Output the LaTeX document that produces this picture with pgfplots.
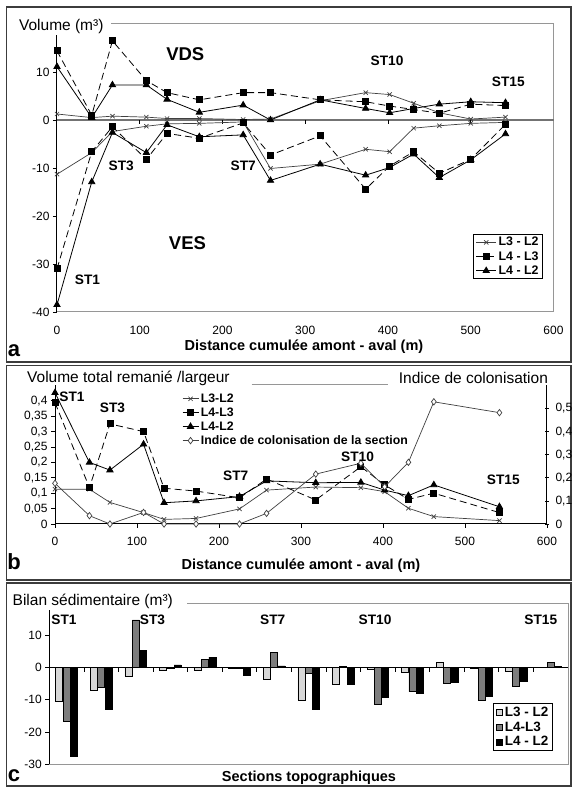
\documentclass[border=0pt]{standalone}
\usepackage{fontspec}
\setmainfont{Liberation Sans}
\usepackage{pgfplots}
\pgfplotsset{compat=1.18}
\newcommand\fs[1]{\fontsize{#1}{#1}\selectfont}
\definecolor{frm}{RGB}{60,60,60}
\definecolor{axg}{RGB}{150,150,150}
\definecolor{lg}{RGB}{215,215,215}
\definecolor{mg}{RGB}{125,125,125}
\pgfplotsset{every axis/.append style={scale only axis, clip=false,
  /pgf/number format/assume math mode=true,
  tick label style={font=\fs{12}},
  major tick length=4pt,
  tick style={black, line width=0.7pt}},
  sLtt/.style={black!75, line width=0.7pt, mark=x, mark size=3pt, mark options={solid}},
  sLtf/.style={black, line width=0.8pt, dash pattern=on 7pt off 4pt, mark=square*, mark size=3pt, mark options={solid}},
  sLft/.style={black, line width=0.8pt, mark=triangle*, mark size=3.6pt, mark options={solid}},
}
\begin{document}
\begin{tikzpicture}
\useasboundingbox (0pt,0pt) rectangle (572pt,788pt);
\fill[white] (0pt,0pt) rectangle (572pt,788pt);
% panel frames
\draw[frm, line width=1.3pt] (6.5pt,781pt) rectangle (571pt,426pt);
\draw[frm, line width=1.3pt] (6.5pt,422.5pt) rectangle (571pt,208pt);
\draw[frm, line width=1.3pt] (6.5pt,205pt) rectangle (571pt,2pt);

% ---------------- panel a
\begin{axis}[at={(57pt,476pt)}, anchor=south west, width=496.5pt, height=288pt,
  xmin=0, xmax=600, ymin=-40, ymax=20,
  xtick={0,100,...,600}, ytick={-40,-30,...,10},
  axis line style={axg, line width=1pt},
  xtick style={draw=none}, ytick pos=left, xtick pos=bottom, tick align=outside,
  xticklabel style={yshift=-7pt},
  legend style={at={(0.979,0.1135)}, anchor=south east, draw=black, line width=1pt,
    font=\bfseries\fs{12.4}, inner xsep=2pt, inner ysep=1pt, row sep=0pt,
    nodes={inner sep=2pt}, cells={anchor=west}},
  legend image code/.code={\draw[mark repeat=2,mark phase=2,#1] plot coordinates {(0pt,0pt) (10pt,0pt) (20pt,0pt)};},
]
\draw[black!55, line width=2.2pt] (axis cs:0,0) -- (axis cs:600,0);
\pgfplotsinvokeforeach{100,200,300,400,500}{\draw[black, line width=0.7pt] (axis cs:#1,0) -- ([yshift=-4pt]axis cs:#1,0);}
\draw[black, line width=1pt] (rel axis cs:0,0) -- (rel axis cs:0,1);
\addplot[sLtt] coordinates {(0,1.25)(42,0.5)(67,0.8)(108,0.6)(133,0.3)(172,0.3)(225,0.1)(258,0.2)(318,4.0)(373,5.7)(402,5.3)(431,3.5)(462,1.5)(500,0.2)(542,0.6)};
\addlegendentry{L3 - L2}
\addplot[sLtf] coordinates {(0,14.4)(42,1.0)(67,16.5)(108,8.2)(133,5.7)(172,4.2)(225,5.7)(258,5.7)(318,4.2)(373,3.8)(402,2.9)(431,2.2)(462,1.4)(500,3.3)(542,3.0)};
\addlegendentry{L4 - L3}
\addplot[sLft] coordinates {(0,11.1)(42,0.5)(67,7.3)(108,7.3)(133,4.3)(172,1.6)(225,3.1)(258,0)(318,4.2)(373,2.4)(402,1.5)(431,2.4)(462,3.3)(500,3.8)(542,3.6)};
\addlegendentry{L4 - L2}
\addplot[sLtt, forget plot] coordinates {(0,-11.3)(42,-6.8)(67,-2.4)(108,-1.3)(133,-0.8)(172,-0.7)(225,-0.4)(258,-10.1)(318,-9.2)(373,-6.1)(402,-6.6)(431,-1.7)(462,-1.2)(500,-0.7)(542,-0.5)};
\addplot[sLtf, forget plot] coordinates {(0,-31)(42,-6.6)(67,-1.4)(108,-8.2)(133,-2.8)(172,-3.8)(225,-0.6)(258,-7.3)(318,-3.3)(373,-14.4)(402,-9.6)(431,-6.6)(462,-11.1)(500,-8.2)(542,-0.9)};
\addplot[sLft, forget plot] coordinates {(0,-38.5)(42,-12.9)(67,-2.6)(108,-6.8)(133,-1.0)(172,-3.5)(225,-3.1)(258,-12.6)(318,-9.2)(373,-11.5)(402,-9.9)(431,-7.1)(462,-12.0)(500,-8.3)(542,-2.9)};
\end{axis}

% ---------------- panel b (left axis)
\begin{axis}[at={(55pt,264pt)}, anchor=south west, width=492pt, height=138.6pt,
  xmin=0, xmax=600, ymin=0, ymax=0.45,
  axis x line*=bottom, axis y line*=left,
  axis line style={black, line width=1pt, -},
  xtick={0,100,...,600}, ytick={0,0.05,0.1,0.15,0.2,0.25,0.3,0.35,0.4},
  tick align=outside,
  xticklabel style={yshift=-6pt},
  yticklabel style={/pgf/number format/.cd, use comma, fixed, precision=2},
  legend style={at={(0.258,0.955)}, anchor=north west, draw=none, fill=none,
    font=\bfseries\fs{12.3}, inner sep=0pt, row sep=0pt,
    nodes={inner sep=1.9pt}, cells={anchor=west}},
  legend image code/.code={\draw[mark repeat=2,mark phase=2,#1] plot coordinates {(0pt,0pt) (8pt,0pt) (16pt,0pt)};},
]
\addplot[sLtt] coordinates {(0,0.113)(42,0.113)(67,0.07)(108,0.037)(133,0.015)(172,0.018)(225,0.049)(258,0.11)(318,0.12)(373,0.118)(402,0.105)(431,0.051)(462,0.024)(542,0.011)};
\addlegendentry{L3-L2}
\addplot[sLtf] coordinates {(0,0.394)(42,0.118)(67,0.325)(108,0.30)(133,0.116)(172,0.107)(225,0.085)(258,0.146)(318,0.078)(373,0.186)(402,0.127)(431,0.080)(462,0.10)(542,0.037)};
\addlegendentry{L4-L3}
\addplot[sLft] coordinates {(0,0.426)(42,0.2)(67,0.175)(108,0.259)(133,0.069)(172,0.075)(225,0.089)(258,0.14)(318,0.134)(373,0.135)(402,0.11)(431,0.092)(462,0.127)(542,0.056)};
\addlegendentry{L4-L2}
\addlegendimage{black!75, line width=0.7pt, mark=diamond*, mark size=3.2pt, mark options={fill=white}}
\addlegendentry{Indice de colonisation de la section}
\end{axis}
% ---------------- panel b (right axis)
\begin{axis}[at={(55pt,264pt)}, anchor=south west, width=492pt, height=138.6pt,
  xmin=0, xmax=600, ymin=0, ymax=0.6,
  axis y line*=right, axis x line=none,
  axis line style={black, line width=1pt, -},
  ytick={0,0.1,0.2,0.3,0.4,0.5}, tick align=center,
  yticklabel style={/pgf/number format/.cd, use comma, fixed, precision=1, /tikz/xshift=3pt},
]
\addplot[black!75, line width=0.7pt, mark=diamond*, mark size=3.2pt, mark options={fill=white}] coordinates {(0,0.176)(42,0.036)(67,0)(108,0.05)(133,0)(172,0)(225,0)(258,0.046)(318,0.216)(373,0.263)(402,0.161)(431,0.267)(462,0.529)(542,0.482)};
\end{axis}

% ---------------- panel c
\begin{axis}[at={(49.3pt,23.7pt)}, anchor=south west, width=518.7pt, height=161.3pt,
  xmin=0.5, xmax=15.5, ymin=-30, ymax=20,
  ybar=0.4pt, bar width=7pt,
  ytick={-30,-20,...,10}, xtick=\empty,
  axis line style={axg, line width=1pt},
  ytick pos=left, tick align=outside,
  legend style={at={(0.971,0.0825)}, anchor=south east, draw=black, line width=1pt,
    font=\bfseries\fs{13.5}, inner xsep=2pt, inner ysep=1pt, row sep=0pt,
    nodes={inner sep=2pt}, cells={anchor=west}},
  legend image code/.code={\draw[#1, line width=0.6pt] (0pt,-3.2pt) rectangle (6.4pt,3.2pt);},
]
\draw[black, line width=1pt] (rel axis cs:0,0) -- (rel axis cs:0,1);
\addplot[fill=lg, draw=black, line width=0.5pt] coordinates {(1,-10.6)(2,-6.9)(3,-2.7)(4,-0.8)(5,-0.9)(6,-0.3)(7,-3.7)(8,-10.0)(9,-5.2)(10,-0.6)(11,-1.4)(12,1.5)(13,-0.1)(14,-1.1)(15,0.0)};
\addlegendentry{L3 - L2}
\addplot[fill=mg, draw=black, line width=0.5pt] coordinates {(1,-16.8)(2,-6.1)(3,14.8)(4,-0.3)(5,2.6)(6,-0.2)(7,4.6)(8,-1.9)(9,0.3)(10,-11.3)(11,-7.5)(12,-4.9)(13,-10.3)(14,-5.8)(15,1.5)};
\addlegendentry{L4-L3}
\addplot[fill=black, draw=black, line width=0.5pt] coordinates {(1,-27.4)(2,-12.8)(3,5.2)(4,0.8)(5,3.2)(6,-2.4)(7,0.5)(8,-12.9)(9,-5.1)(10,-9.2)(11,-8.0)(12,-4.6)(13,-8.9)(14,-4.4)(15,0.4)};
\addlegendentry{L4 - L2}
\draw[black, line width=1pt] (axis cs:0.5,0) -- (axis cs:15.5,0);
\pgfplotsinvokeforeach{1.5,2.5,3.5,4.5,5.5,6.5,7.5,8.5,9.5,10.5,11.5,12.5,13.5,14.5}{\draw[black, line width=0.7pt] (axis cs:#1,0) -- ([yshift=-4pt]axis cs:#1,0);}
\end{axis}

% ---------------- texts panel a
\fill[white] (13pt,771pt) rectangle (111pt,753pt);
\node[font=\fs{15.5}] at (61.3pt,761.3pt) {Volume (m³)};
\node[font=\bfseries\fs{18.5}] at (185.3pt,733.7pt) {VDS};
\node[font=\bfseries\fs{18.5}] at (187.5pt,544.7pt) {VES};
\begin{scope}[every node/.style={font=\bfseries\fs{13.7}}]
\node at (87.5pt,508pt) {ST1};
\node at (121.3pt,622.3pt) {ST3};
\node at (243.3pt,622.3pt) {ST7};
\node at (387pt,727pt) {ST10};
\node at (508.3pt,706.3pt) {ST15};
\end{scope}
\node[font=\bfseries\fs{14.5}, anchor=base] at (304pt,437.5pt) {Distance cumulée amont - aval (m)};
\node[font=\bfseries\fs{22}, anchor=base] at (14pt,431pt) {a};

% ---------------- texts panel b
\draw[axg, line width=1pt] (251.7pt,403.5pt) -- (388.3pt,403.5pt);
\node[font=\fs{15.5}] at (128.4pt,409.7pt) {Volume total remanié /largeur};
\node[font=\fs{15.5}] at (473.4pt,410pt) {Indice de colonisation};
\begin{scope}[every node/.style={font=\bfseries\fs{13.7}}]
\node at (72pt,391.3pt) {ST1};
\node at (112.5pt,380.7pt) {ST3};
\node at (235.8pt,312pt) {ST7};
\node at (357.5pt,331.3pt) {ST10};
\node at (503.3pt,308pt) {ST15};
\end{scope}
\node[font=\bfseries\fs{14.5}, anchor=base] at (301pt,218pt) {Distance cumulée amont - aval (m)};
\node[font=\bfseries\fs{22}, anchor=base] at (14pt,218pt) {b};

% ---------------- texts panel c
\fill[white] (9pt,195pt) rectangle (187pt,178pt);
\node[font=\fs{15.5}] at (92.8pt,187pt) {Bilan sédimentaire (m³)};
\begin{scope}[every node/.style={font=\bfseries\fs{13.7}}]
\node at (64pt,168pt) {ST1};
\node at (152.5pt,168pt) {ST3};
\node at (272.8pt,168pt) {ST7};
\node at (375pt,168pt) {ST10};
\node at (540.8pt,168pt) {ST15};
\end{scope}
\node[font=\bfseries\fs{14.5}, anchor=base] at (309pt,6.5pt) {Sections topographiques};
\node[font=\bfseries\fs{22}, anchor=base] at (14pt,6.5pt) {c};
\end{tikzpicture}
\end{document}
